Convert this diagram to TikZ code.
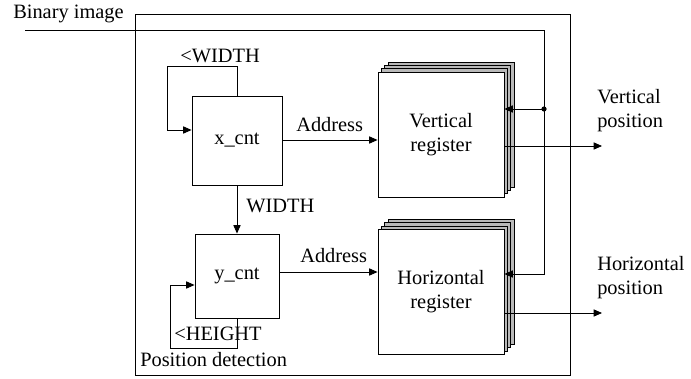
\documentclass[tikz,border=0pt]{standalone}
\usepackage{fontspec}
\setmainfont{Liberation Serif}
\usetikzlibrary{arrows.meta,shadows}

\begin{document}
\begin{tikzpicture}[x=0.025cm, y=-0.025cm,
                        every node/.style={font=\fontsize{14.5}{17}\selectfont},
                        block/.style={draw, line width=0.6pt, fill=white, inner sep=0pt},
                        layer/.style={shadow xshift=#1, shadow yshift=#1, fill=gray!55, draw=black, line width=0.6pt},
                        reg/.style={block, minimum width=3.15cm, minimum height=3.125cm, align=center,
                                    copy shadow={layer=0.25cm}, copy shadow={layer=0.167cm}, copy shadow={layer=0.083cm}},
                        lbl/.style={inner sep=0pt, anchor=base west},
                        arr/.style={-{Triangle[length=0.21cm,width=0.18cm]}, line width=0.6pt}]
                \useasboundingbox (0,0) rectangle (691,379);

                        % Define nodes
                        \node[block, minimum width=10.875cm, minimum height=9.025cm] (det) at (352.5,194.5) {}; % Outer box
                        \node[block, minimum width=2.25cm, minimum height=2.225cm] (xcnt) at (237,140.5) {x\_cnt};
                        \node[block, minimum width=2.1cm, minimum height=2.1cm] (ycnt) at (237,276) {y\_cnt};
                        \node[reg] (vreg) at (441,134.5) {Vertical\\register};
                        \node[reg] (hreg) at (441,292) {Horizontal\\register};

                        % Labels
                        \node[lbl] (bin) at (13,19) {Binary image};
                        \node[lbl] (detlbl) at (140,367) {Position detection};
                        \node[lbl] (vpos) at (597,104) {Vertical};
                        \node[lbl] at (597,128) {position};
                        \node[lbl] (hpos) at (597,271) {Horizontal};
                        \node[lbl] at (597,295) {position};
                        \coordinate (in) at (25,30);
                        \coordinate (tap) at (544,109);
                        \coordinate (vout) at (602,146);
                        \coordinate (hout) at (602,313);

                        % Define edges
                        \draw[line width=0.6pt] (in) -| (tap);
                        \draw[arr] (tap) |- (hreg.east |- 0,274);
                        \draw[arr] (tap) -- (vreg.east |- tap);
                        \fill (tap) circle (2.6);
                        \draw[arr] (xcnt.north) |- (167,66) |- (xcnt.west |- 0,130);
                        \draw[arr] (ycnt.south) |- (170,348) |- (ycnt.west |- 0,285);
                        \draw[arr] (xcnt.east |- 0,140) -- (vreg.west |- 0,140);
                        \draw[arr] (ycnt.east |- 0,272) -- (hreg.west |- 0,272);
                        \draw[arr] (xcnt.south) -- (ycnt.north);
                        \draw[arr] (vreg.east |- vout) -- (vout);
                        \draw[arr] (hreg.east |- hout) -- (hout);
                        \node[lbl] at (180,63) {<WIDTH};
                        \node[lbl] at (246,213) {WIDTH};
                        \node[lbl] at (174,341) {<HEIGHT};
                        \node[lbl] at (296,132) {Address};
                        \node[lbl] at (300,263) {Address};
                        \end{tikzpicture}
\end{document}
